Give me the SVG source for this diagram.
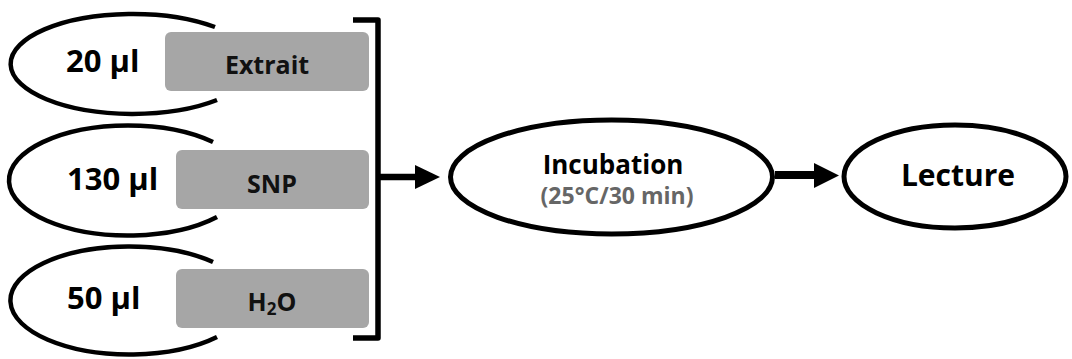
<svg xmlns="http://www.w3.org/2000/svg" width="1072" height="359" viewBox="0 0 1072 359">
  <style>
    .ring { fill: none; stroke: #000; stroke-width: 4.5; }
    .oval { fill: #fff; stroke: #000; stroke-width: 5; }
    .box { fill: #a6a6a6; }
    .vol { font-family: "Open Sans", "Liberation Sans", sans-serif; font-weight: 700; font-size: 31px; fill: #000; }
    .lbl { font-family: "Open Sans", "Liberation Sans", sans-serif; font-weight: 700; font-size: 25px; fill: #111; text-anchor: middle; }
    .title { font-family: "Open Sans", "Liberation Sans", sans-serif; font-weight: 700; text-anchor: middle; fill: #000; }
    .sub { font-family: "Open Sans", "Liberation Sans", sans-serif; font-weight: 700; font-size: 23px; text-anchor: middle; fill: #666; }
    .wire { fill: none; stroke: #000; stroke-linejoin: round; }
  </style>

  <!-- reagent: extract -->
  <g id="reagent-extrait">
    <path class="ring" d="M 215 27 A 122 50 0 1 0 217 100"/>
    <rect class="box" x="165" y="32" width="204" height="59" rx="6"/>
    <text class="vol" x="66" y="72">20 µl</text>
    <text class="lbl" x="267" y="74">Extrait</text>
  </g>

  <!-- reagent: SNP -->
  <g id="reagent-snp">
    <path class="ring" d="M 213 142 A 119 55 0 1 0 217 217"/>
    <rect class="box" x="176" y="150" width="193" height="59" rx="6"/>
    <text class="vol" x="67" y="190">130 µl</text>
    <text class="lbl" x="272" y="193">SNP</text>
  </g>

  <!-- reagent: water -->
  <g id="reagent-h2o">
    <path class="ring" d="M 213 262 A 119 54 0 1 0 217 337"/>
    <rect class="box" x="176" y="269" width="193" height="59" rx="6"/>
    <text class="vol" x="67" y="309">50 µl</text>
    <text class="lbl" x="272" y="311">H<tspan font-size="17" dy="4">2</tspan><tspan dy="-4">O</tspan></text>
  </g>

  <!-- incubation step -->
  <g id="incubation">
    <ellipse class="oval" cx="611.5" cy="177" rx="161" ry="57"/>
    <text class="title" x="613" y="174" font-size="26">Incubation</text>
    <text class="sub" x="617" y="204">(25°C/30 min)</text>
  </g>

  <!-- reading step -->
  <g id="lecture">
    <ellipse class="oval" cx="955" cy="176.5" rx="111" ry="51.5"/>
    <text class="title" x="958" y="186" font-size="30">Lecture</text>
  </g>

  <!-- connectors -->
  <g id="connectors">
    <path class="wire" stroke-width="5.5" d="M 353 20 H 378 V 338 H 353"/>
    <line class="wire" stroke-width="6.5" x1="378" y1="177" x2="418" y2="177"/>
    <polygon points="415,165 440,177 415,189" fill="#000"/>
    <line class="wire" stroke-width="8" x1="775" y1="175" x2="817" y2="175"/>
    <polygon points="814,163 839,175.5 814,188" fill="#000"/>
  </g>
</svg>
